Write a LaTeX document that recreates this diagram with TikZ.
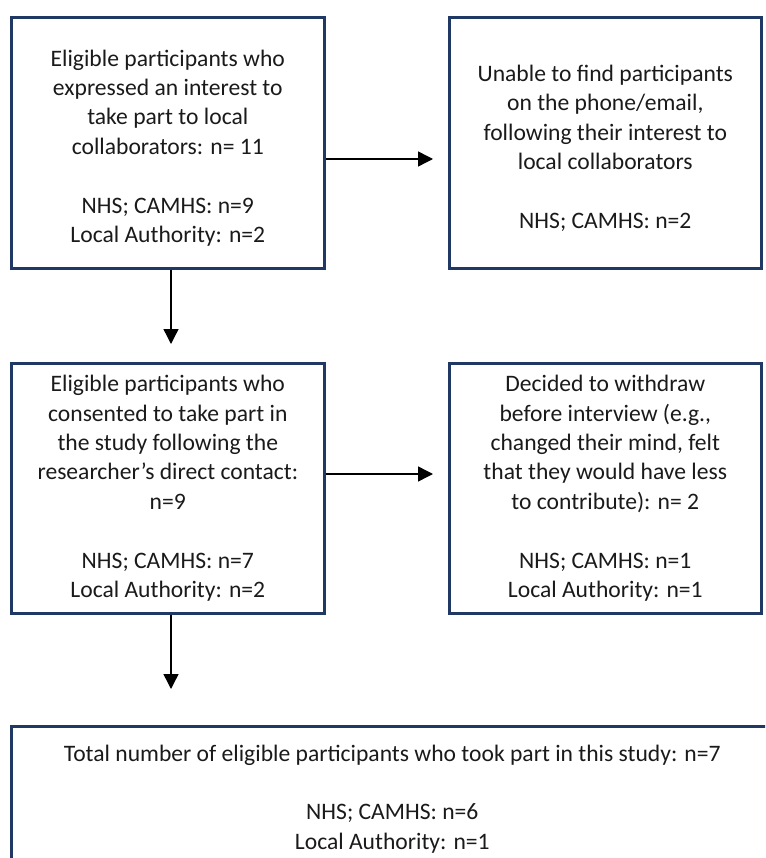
\documentclass[tikz,border=0pt]{standalone}
\usepackage{fontspec}
\setmainfont{Carlito}
\usetikzlibrary{arrows.meta}
\definecolor{boxblue}{HTML}{203864}
\definecolor{txt}{HTML}{1A1A1A}
\newcommand{\topgap}{\rule{0pt}{27pt}}
\tikzset{
  flowbox/.style={draw=boxblue, line width=2.6pt, rectangle, inner sep=0pt,
    anchor=north west, align=center, text=txt,
    font={\fontsize{23.6}{29.4}\selectfont}},
  arr/.style={draw=black, line width=1.4pt, -{Triangle[width=15pt,length=15pt]}}
}
\begin{document}
\begin{tikzpicture}[x=1pt,y=-1pt]
\path[use as bounding box] (0,0) rectangle (765,858);
\clip (0,0) rectangle (765,858);

\node[flowbox, minimum width=313pt, minimum height=251pt] (b1) at (10,16)
  {\topgap Eligible participants who\\expressed an interest to\\take part to local\\collaborators: n= 11\\[29.4pt]NHS; CAMHS: n=9\\Local Authority: n=2};
\node[flowbox, minimum width=312pt, minimum height=251pt] (b2) at (448,16)
  {\topgap Unable to find participants\\on the phone/email,\\following their interest to\\local collaborators\\[29.4pt]NHS; CAMHS: n=2};
\node[flowbox, minimum width=313pt, minimum height=250pt] (b3) at (10,362)
  {Eligible participants who\\consented to take part in\\the study following the\\researcher’s direct contact:\\n=9\\[29.4pt]NHS; CAMHS: n=7\\Local Authority: n=2};
\node[flowbox, minimum width=312pt, minimum height=250pt] (b4) at (448,362)
  {Decided to withdraw\\before interview (e.g.,\\changed their mind, felt\\that they would have less\\to contribute): n= 2\\[29.4pt]NHS; CAMHS: n=1\\Local Authority: n=1};
\node[flowbox, minimum width=762pt, minimum height=145pt] (b5) at (10,725)
  {Total number of eligible participants who took part in this study: n=7\\[29.4pt]NHS; CAMHS: n=6\\Local Authority: n=1};

\coordinate (t1) at (433,159);
\coordinate (t2) at (171,344);
\coordinate (t3) at (433,474);
\coordinate (t4) at (171,689);

\draw[arr] (b1.east |- t1) -- (t1);
\draw[arr] (b1.south -| t2) -- (t2);
\draw[arr] (b3.east |- t3) -- (t3);
\draw[arr] (b3.south -| t4) -- (t4);
\end{tikzpicture}
\end{document}
